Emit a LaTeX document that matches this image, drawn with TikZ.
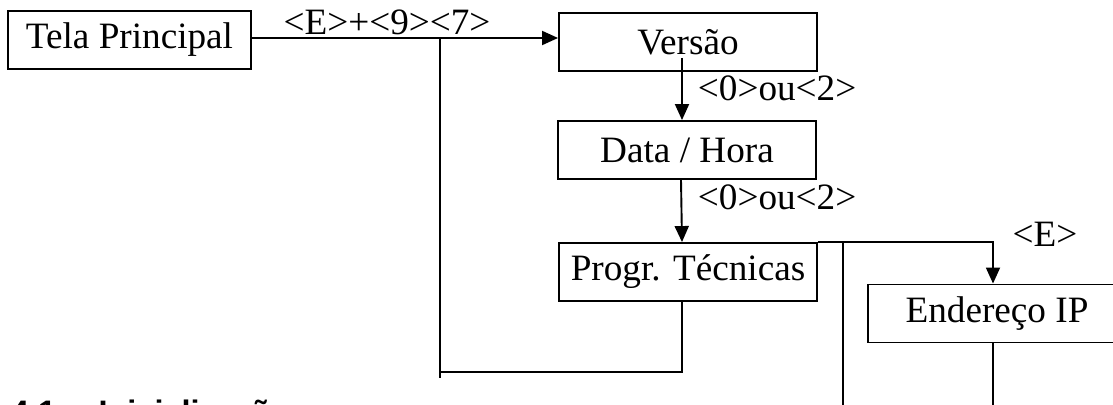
\documentclass[tikz,border=0pt]{standalone}
\usepackage{fontspec}
\setmainfont{Liberation Serif}
\newfontfamily\headfont{Liberation Sans}
\usetikzlibrary{arrows.meta,calc}
\begin{document}
\begin{tikzpicture}[x=0.5pt,y=-0.5pt,line width=0.95pt,
  box/.style={draw, minimum width=129pt, minimum height=29pt, inner sep=0pt, font=\fontsize{18.6}{22}\selectfont},
  lbl/.style={inner sep=0pt, font=\fontsize{18.6}{22}\selectfont},
  arr/.style={-{Triangle[length=8pt,width=7pt]}},
  head/.style={inner sep=0pt, font=\headfont\bfseries\fontsize{16.25}{19}\selectfont}]
\useasboundingbox (0,0) rectangle (1113,405);
\clip (0,0) rectangle (1113,405);
% boxes
\node[box, minimum width=121.5pt] (tela) at (129.5,40) {Tela Principal};
\node[box] (versao) at (688,42) {Versão};
\node[box] (data) at (687,150) {Data / Hora};
\node[box] (progr) at (688,272) {Progr. Técnicas};
\node[box] (ender) at (997,313.5) {Endereço IP};
% main arrow
\draw[arr] ([yshift=1pt]tela.east) -- ([yshift=1pt]tela.east -| versao.west);
\node[lbl, anchor=base] (l0) at (387,35) {<E>+<9><7>};
% vertical chain
\coordinate (v1) at ($(versao.center)+(-6,16)$);
\draw[arr] (v1) -- (v1 |- data.north);
\node[lbl, anchor=base west] (l1) at (697,101) {<0>ou<2>};
\draw[arr] ([xshift=-3pt]data.south) -- ([xshift=-3pt]progr.north);
\node[lbl, anchor=base west] (l2) at (697,210) {<0>ou<2>};
% return loop
\coordinate (b1) at (440,38);
\coordinate (b2) at (440,378);
\draw (b1) -- (b2);
\coordinate (lp) at (440,372);
\draw ([xshift=-3pt]progr.south) |- (lp);
% right branch
\draw[arr] (progr.north east) -| ([xshift=-2pt]ender.north);
\node[lbl, anchor=base] (le) at (1045,247) {<E>};
\coordinate (v2) at (843,243);
\coordinate (v2e) at (843,420);
\draw (v2) -- (v2e);
\coordinate (v3e) at ($(ender.south)+(-4,80)$);
\draw ([xshift=-2pt]ender.south) -- (v3e);
% clipped heading
\node[head, anchor=base west] (h) at (10,423) {4.1\hspace{21.25pt}Inicialização};
\end{tikzpicture}
\end{document}
